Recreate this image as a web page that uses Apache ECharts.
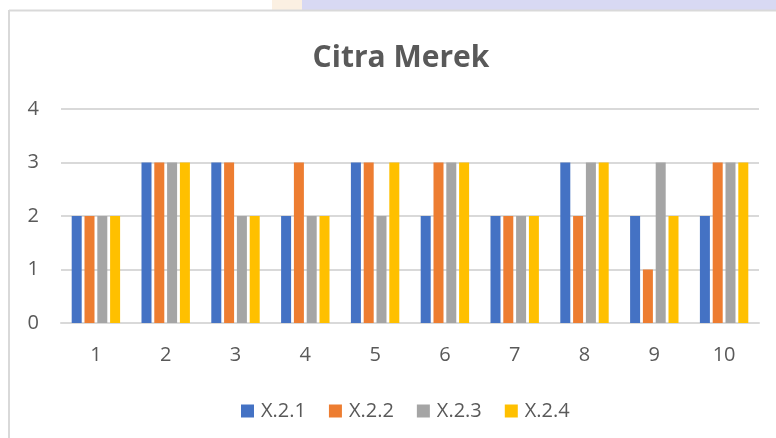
<!DOCTYPE html>
<html><head><meta charset="utf-8">
<script src="https://cdn.jsdelivr.net/npm/echarts@6/dist/echarts.min.js"></script>
<style>html,body{margin:0;padding:0;background:#fff}#c{width:776px;height:438px}</style>
</head><body><div id="c"></div>
<script>
const categories = ['1','2','3','4','5','6','7','8','9','10'];
const seriesNames = ['X.2.1','X.2.2','X.2.3','X.2.4'];
const x21 = [2,3,3,2,3,2,2,3,2,2];
const x22 = [2,3,3,3,3,3,2,2,1,3];
const x23 = [2,3,2,2,2,3,2,3,3,3];
const x24 = [2,3,2,2,3,3,2,3,2,3];
const colors = ['#4472C4','#ED7D31','#A5A5A5','#FFC000'];
const values = [x21,x22,x23,x24];
const font = '"Open Sans", "Liberation Sans", sans-serif';

const chart = echarts.init(document.getElementById('c'), null, {renderer:'canvas'});
chart.setOption({
  animation:false,
  color: colors,
  graphic:[
    {type:'rect', shape:{x:302,y:0,width:474,height:10}, style:{fill:'#d8d9f3'}, z:-1},
    {type:'rect', shape:{x:272,y:0,width:30,height:10}, style:{fill:'#fbf0e2'}, z:-1},
    {type:'line', shape:{x1:9,y1:10.5,x2:776,y2:10.5}, style:{stroke:'#d9d9d9',lineWidth:2}},
    {type:'line', shape:{x1:9,y1:10,x2:9,y2:438}, style:{stroke:'#d9d9d9',lineWidth:2}}
  ],
  title:{
    text:'Citra Merek', left:396, top:38, textAlign:'center',
    textStyle:{fontFamily:font, fontWeight:'bold', fontSize:30, color:'#595959'}
  },
  legend:{
    data: seriesNames, top:396, left:236, itemWidth:13, itemHeight:13, itemGap:23,
    icon:'rect',
    textStyle:{fontFamily:font, fontSize:20, color:'#595959', padding:[0,0,0,2]}
  },
  grid:{left:61, right:17, top:109, bottom:115, containLabel:false},
  xAxis:{
    type:'category', data:categories,
    axisLine:{lineStyle:{color:'#d9d9d9', width:2}},
    axisTick:{show:false},
    axisLabel:{fontFamily:font, fontSize:20, color:'#595959', margin:22}
  },
  yAxis:{
    type:'value', min:0, max:4, interval:1,
    axisLine:{show:false}, axisTick:{show:false},
    splitLine:{lineStyle:{color:'#d9d9d9', width:2}},
    axisLabel:{fontFamily:font, fontSize:20, color:'#595959', margin:22}
  },
  series: seriesNames.map((n,i)=>({
    name:n, type:'bar', data:values[i],
    barWidth:10, barGap:'28%', barCategoryGap:'30%',
    itemStyle:{color:colors[i]}
  }))
});
</script></body></html>
